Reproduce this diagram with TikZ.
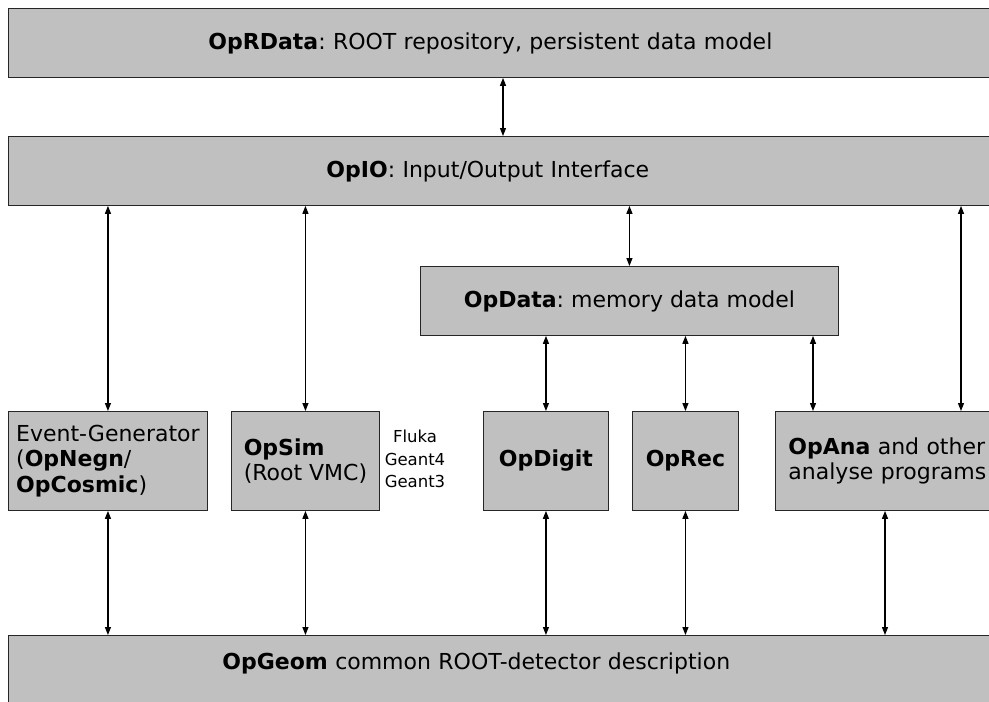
\documentclass[tikz,border=0pt]{standalone}
\usepackage{fontspec}
\setmainfont{DejaVu Sans}
\usepackage{tikz}
\usetikzlibrary{arrows.meta}
\frenchspacing

\definecolor{boxgray}{HTML}{C0C0C0}

\begin{document}
\begin{tikzpicture}[x=1pt,y=-1pt,>={Stealth[length=8pt,width=6pt,inset=0pt]}]
        \tikzstyle{layer}=[rectangle,draw=black!85,line width=0.9pt,fill=boxgray,anchor=north west,
            inner sep=0pt,font=\fontsize{22}{25.6}\selectfont]
        \tikzstyle{module}=[layer,minimum height=99pt]
        \tikzstyle{link}=[<->,line width=1.2pt]
        \useasboundingbox (0,0) rectangle (989,702);
        % layers
        \node[layer,minimum height=69pt,inner xsep=200pt,text width=640pt,align=left] (rdata) at (8,8)
            {\textbf{OpRData}: ROOT repository, persistent data model};
        \node[layer,minimum height=69pt,inner xsep=318pt,text width=420pt,align=left] (io) at (8,136)
            {\textbf{OpIO}: Input/Output Interface};
        \node[layer,minimum height=69pt,minimum width=418pt] (data) at (420,266)
            {\textbf{OpData}: memory data model};
        % modules
        \node[module,minimum width=199pt,align=left] (gen) at (8,411)
            {Event-Generator\\(\textbf{OpNegn}/\\\textbf{OpCosmic})};
        \node[module,minimum width=148pt,align=left] (sim) at (231,411)
            {\textbf{OpSim}\\(Root VMC)};
        \node[font=\fontsize{16.5}{22.5}\selectfont,align=center] (engines) at (415,459)
            {Fluka\\Geant4\\Geant3};
        \node[module,minimum width=125pt] (digit) at (483,411) {\textbf{OpDigit}};
        \node[module,minimum width=106pt] (rec) at (632,411) {\textbf{OpRec}};
        \node[module,inner xsep=13pt,text width=240pt,align=left] (ana) at (775,411)
            {\textbf{OpAna} and other\\analyse programs};
        \node[layer,inner xsep=214pt,text width=600pt,align=left,text height=34pt,text depth=60pt] (geom) at (8,635)
            {\textbf{OpGeom} common ROOT-detector description};
        % connections
        \draw[link] ([xshift=495pt]rdata.south west) -- ([xshift=495pt]io.north west);
        \draw[link] (io.south -| gen.north) -- (gen.north);
        \draw[link] (io.south -| sim.north) -- (sim.north);
        \draw[link] (io.south -| data.north) -- (data.north);
        \draw[link] ([xshift=186pt]ana.north west |- io.south) -- ([xshift=186pt]ana.north west);
        \draw[link] (data.south -| digit.north) -- (digit.north);
        \draw[link] (data.south -| rec.north) -- (rec.north);
        \draw[link] ([xshift=38pt]ana.north west |- data.south) -- ([xshift=38pt]ana.north west);
        \draw[link] (gen.south) -- (gen.south |- geom.north);
        \draw[link] (sim.south) -- (sim.south |- geom.north);
        \draw[link] (digit.south) -- (digit.south |- geom.north);
        \draw[link] (rec.south) -- (rec.south |- geom.north);
        \draw[link] ([xshift=110pt]ana.south west) -- ([xshift=110pt]ana.south west |- geom.north);
\end{tikzpicture}
\end{document}
